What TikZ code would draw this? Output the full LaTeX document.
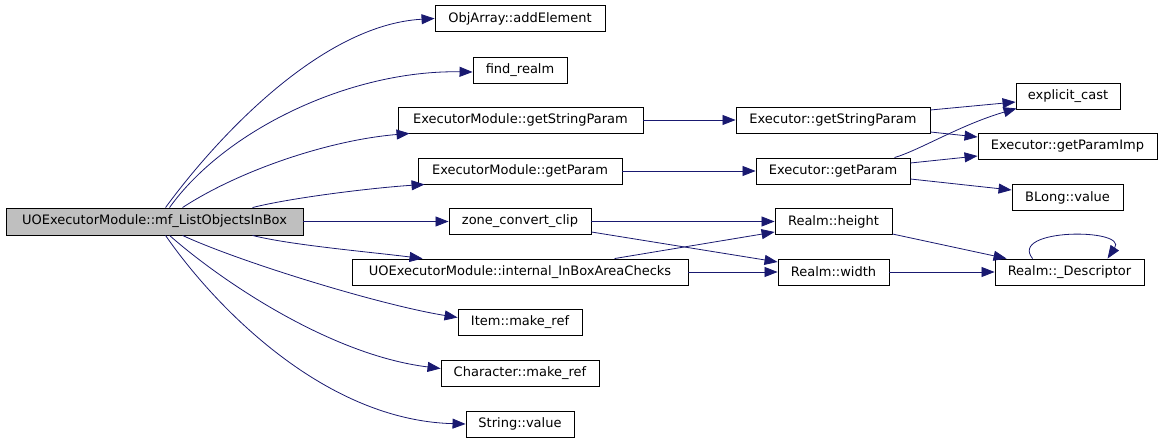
\documentclass[tikz,border=0pt]{standalone}
\usepackage{fontspec}
\setmainfont{DejaVu Sans}
\usetikzlibrary{arrows.meta,calc}
\definecolor{edgeblue}{HTML}{191970}
\definecolor{rootgrey}{HTML}{BFBFBF}

\begin{document}
\begin{tikzpicture}[
    x=1pt, y=-1pt,
    fn/.style={rectangle, draw=black, line width=0.9pt, minimum height=26pt, inner sep=0pt, text centered, font=\fontsize{13}{15}\selectfont},
    root/.style={fn, fill=rootgrey, minimum height=27pt},
    call/.style={-{Triangle[length=13pt,width=10pt]}, line width=0.8pt, draw=edgeblue}
]
    \useasboundingbox (0,0) rectangle (1165,443);

    % caller
    \node (main) [root, minimum width=297pt] at (154.5,221.5) {UOExecutorModule::mf\_ListObjectsInBox};

    % direct callees
    \node (addel)   [fn, minimum width=170pt] at (520,18.5)  {ObjArray::addElement};
    \node (findr)   [fn, minimum width=94pt]  at (520,70)    {find\_realm};
    \node (emstr)   [fn, minimum width=245pt] at (520.5,120) {ExecutorModule::getStringParam};
    \node (empar)   [fn, minimum width=204pt] at (520,171)   {ExecutorModule::getParam};
    \node (zone)    [fn, minimum width=142pt] at (520,221.5) {zone\_convert\_clip};
    \node (inbox)   [fn, minimum width=336pt] at (520,272)   {UOExecutorModule::internal\_InBoxAreaChecks};
    \node (itemref) [fn, minimum width=124pt] at (520,322.5) {Item::make\_ref};
    \node (charref) [fn, minimum width=158pt] at (520,373.5) {Character::make\_ref};
    \node (strval)  [fn, minimum width=108pt] at (520,424)   {String::value};

    % second level
    \node (exstr)   [fn, minimum width=194pt] at (833,120)    {Executor::getStringParam};
    \node (expar)   [fn, minimum width=154pt] at (833,171)    {Executor::getParam};
    \node (rheight) [fn, minimum width=117pt] at (833.5,221.5) {Realm::height};
    \node (rwidth)  [fn, minimum width=111pt] at (833.5,272)  {Realm::width};

    % third level
    \node (ecast)   [fn, minimum width=104pt] at (1068,96)    {explicit\_cast};
    \node (pimp)    [fn, minimum width=179pt] at (1067.5,146) {Executor::getParamImp};
    \node (blong)   [fn, minimum width=111pt] at (1067.5,197.5) {BLong::value};
    \node (rdesc)   [fn, minimum width=149pt] at (1069.5,272) {Realm::\_Descriptor};

    % fan out of the caller
    \draw [call] ($(main.north west)+(160,0)$) .. controls (215,140) and (320,25) .. (addel.west);
    \draw [call] ($(main.north west)+(164,0)$) .. controls (225,130) and (350,70) .. ($(findr.west)+(0,2)$);
    \draw [call] ($(main.north west)+(177,0)$) .. controls (240,170) and (330,140) .. ($(emstr.south west)+(12,0)$);
    \draw [call] ($(main.north west)+(247,0)$) .. controls (290,198) and (370,188) .. ($(empar.south west)+(7,0)$);
    \draw [call] (main) -- (zone);
    \draw [call] ($(main.south west)+(247,0)$) .. controls (290,245) and (370,252) .. ($(inbox.north west)+(71,0)$);
    \draw [call] ($(main.south west)+(177,0)$) .. controls (240,262) and (380,305) .. ($(itemref.west)+(0,-5)$);
    \draw [call] ($(main.south west)+(164,0)$) .. controls (220,280) and (330,355) .. ($(charref.west)+(0,-5)$);
    \draw [call] ($(main.south west)+(160,0)$) .. controls (210,300) and (320,420) .. (strval.west);

    % second level calls
    \draw [call] (emstr) -- (exstr);
    \draw [call] (empar) -- (expar);
    \draw [call] (zone) -- (rheight);
    \draw [call] ($(zone.east)+(0,10.5)$) -- ($(rwidth.west)+(0,-10)$);
    \draw [call] ($(inbox.north west)+(263,0)$) -- ($(rheight.west)+(0,10.5)$);
    \draw [call] (inbox) -- (rwidth);

    % third level calls
    \draw [call] ($(exstr.east)+(0,-10)$) -- ($(ecast.west)+(0,6)$);
    \draw [call] ($(exstr.east)+(0,12)$) -- ($(pimp.west)+(0,-9)$);
    \draw [call] ($(expar.north west)+(139,0)$) .. controls (920,150) and (960,125) .. ($(ecast.south west)+(1,-1)$);
    \draw [call] ($(expar.east)+(0,-8)$) -- ($(pimp.west)+(0,10)$);
    \draw [call] ($(expar.east)+(0,8)$) -- ($(blong.west)+(0,-7.5)$);
    \draw [call] ($(rheight.east)+(0,12.5)$) -- ($(rdesc.north west)+(12,0)$);
    \draw [call] (rwidth) -- (rdesc);
    \draw [call] ($(rdesc.north west)+(38,0)$) .. controls (1008,228) and (1128,228) .. ($(rdesc.north west)+(113,0)$);
\end{tikzpicture}
\end{document}
